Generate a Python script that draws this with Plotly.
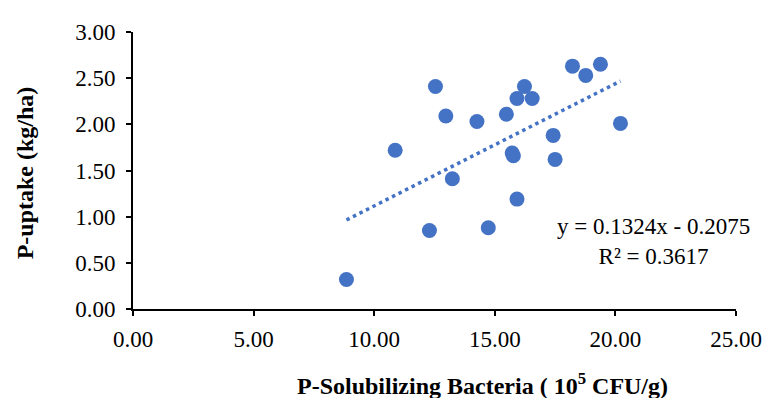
import plotly.graph_objects as go

# Data
psb_cfu = [8.85, 10.87, 12.29, 12.54, 12.97, 13.24, 14.26, 14.73, 15.48, 15.72, 15.77,
           15.92, 15.92, 16.23, 16.55, 17.42, 17.50, 18.22, 18.77, 19.38, 20.21]
p_uptake = [0.32, 1.72, 0.85, 2.41, 2.09, 1.41, 2.03, 0.88, 2.11, 1.69, 1.66,
            1.19, 2.28, 2.41, 2.28, 1.88, 1.62, 2.63, 2.53, 2.65, 2.01]

# Linear trendline as reported on the chart
SLOPE = 0.1324
INTERCEPT = -0.2075
R2 = 0.3617

x_ticks = [0, 5, 10, 15, 20, 25]
y_ticks = [0, 0.5, 1.0, 1.5, 2.0, 2.5, 3.0]

BLUE = "#4472C4"
FONT = "Liberation Serif, Times New Roman, serif"

trend_x = [min(psb_cfu), max(psb_cfu)]
trend_y = [SLOPE * v + INTERCEPT for v in trend_x]

fig = go.Figure()
fig.add_trace(go.Scatter(
    x=trend_x, y=trend_y, mode="lines",
    line=dict(color=BLUE, width=3.5, dash="3.5px,3.8px"),
    hoverinfo="skip", showlegend=False,
))
fig.add_trace(go.Scatter(
    x=psb_cfu, y=p_uptake, mode="markers",
    marker=dict(color=BLUE, size=15, line=dict(width=0)),
    showlegend=False,
))

# plot area in page pixels: x 133..744, y 24..309 (page has an 8px body margin)
PL, PR, PT, PB = 133, 744, 24, 309
PW, PH = PR - PL, PB - PT

eq_text = f"y = {SLOPE}x - {abs(INTERCEPT)}<br>R² = {R2}"
fig.add_annotation(
    x=21.6, y=0.73, xref="x", yref="y", text=eq_text, showarrow=False,
    align="center", font=dict(family=FONT, size=23, color="black"),
)
fig.add_annotation(
    x=(487 - PL) / PW, y=(PB - 386) / PH, xref="paper", yref="paper",
    text="<b>P-Solubilizing Bacteria ( 10<sup>5</sup> CFU/g)</b>", showarrow=False,
    xanchor="center", yanchor="middle",
    font=dict(family=FONT, size=24, color="black"),
)
fig.add_annotation(
    x=(24 - PL) / PW, y=(PB - 169) / PH, xref="paper", yref="paper",
    text="<b>P-uptake (kg/ha)</b>", showarrow=False, textangle=-90,
    xanchor="center", yanchor="middle",
    font=dict(family=FONT, size=24, color="black"),
)

axis_common = dict(
    showgrid=False, zeroline=False, showline=True, linecolor="black", linewidth=2,
    ticks="outside", ticklen=5, tickwidth=2, tickcolor="black",
    tickfont=dict(family=FONT, size=23, color="black"), tickformat=".2f",
)
fig.update_xaxes(range=[0, 25], tickvals=x_ticks, ticklabelstandoff=3, **axis_common)
fig.update_yaxes(range=[0, 3], tickvals=y_ticks, ticklabelstandoff=6, **axis_common)

fig.update_layout(
    width=766, height=390,
    margin=dict(l=PL - 8, r=774 - PR, t=PT - 8, b=398 - PB),
    paper_bgcolor="white", plot_bgcolor="white",
    showlegend=False,
)

fig.write_html("out.html")
